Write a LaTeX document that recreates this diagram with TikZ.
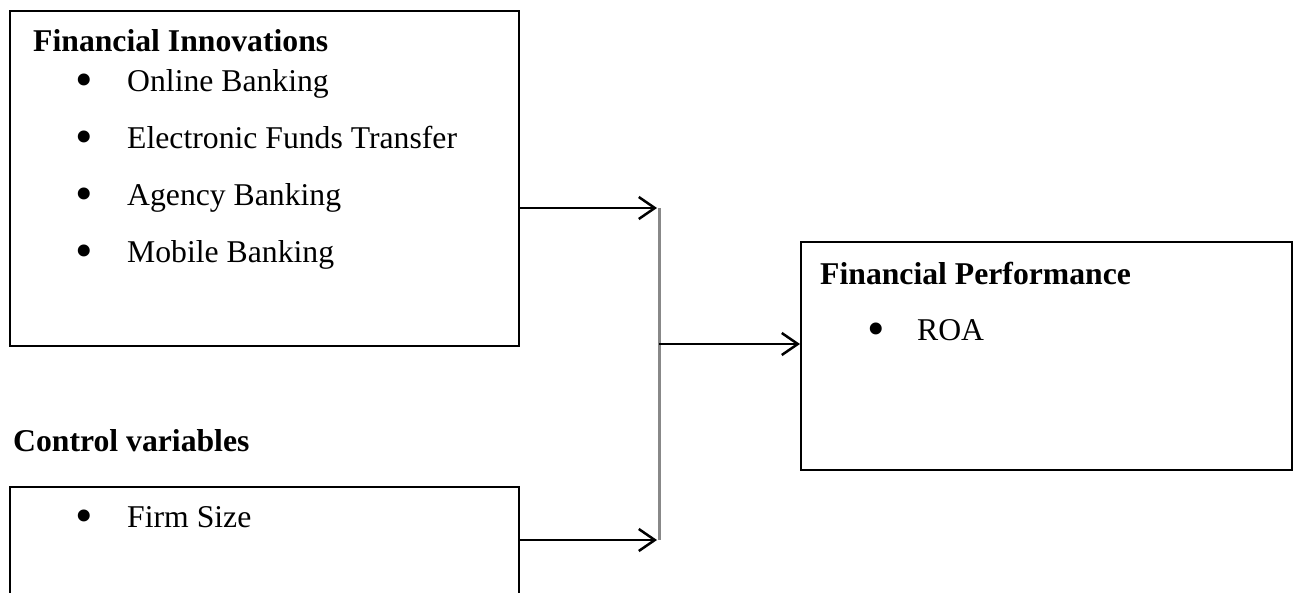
\documentclass[tikz,border=0pt]{standalone}
\usepackage{fontspec}
\setmainfont{Liberation Serif}
\usetikzlibrary{arrows.meta}
\definecolor{bargray}{RGB}{136,136,136}
\begin{document}
\begin{tikzpicture}[x=1pt,y=-1pt,
  box/.style={draw, line width=2pt, inner sep=0pt, anchor=north west},
  txt/.style={anchor=base west, inner sep=0pt, font=\fontsize{31.7}{38}\selectfont},
  ttl/.style={anchor=base west, inner sep=0pt, font=\fontsize{31.7}{38}\selectfont\bfseries},
  bul/.style={anchor=center, inner sep=0pt, font=\fontsize{50}{50}\selectfont},
  arr/.style={line width=2.5pt, -{Straight Barb[length=16pt,width=22pt,line width=2.5pt]}},
  bar/.style={line width=3pt, draw=bargray},
]
\useasboundingbox (0,0) rectangle (1295,592);
\clip (0,0) rectangle (1295,592);

% boxes
\node[box, minimum width=509pt, minimum height=335pt] (fi) at (9,10) {};
\node[box, minimum width=509pt, minimum height=150pt] (cv) at (9,486) {};
\node[box, minimum width=491pt, minimum height=228pt] (fp) at (800,241) {};

% Financial Innovations
\node[ttl] (fit) at (33,51) {Financial Innovations};
\node[bul] (b1) at (84,85) {•};
\node[txt] (t1) at (127,91) {Online Banking};
\node[bul] (b2) at (84,142) {•};
\node[txt] (t2) at (127,148) {Electronic Funds Transfer};
\node[bul] (b3) at (84,199) {•};
\node[txt] (t3) at (127,205) {Agency Banking};
\node[bul] (b4) at (84,256) {•};
\node[txt] (t4) at (127,262) {Mobile Banking};

% Control variables
\node[ttl] (cvt) at (13,451) {Control variables};
\node[bul] (b5) at (84,521) {•};
\node[txt] (t5) at (127,527) {Firm Size};

% Financial Performance
\node[ttl] (fpt) at (820,284) {Financial Performance};
\node[bul] (b6) at (876,334) {•};
\node[txt] (t6) at (917,340) {ROA};

% connectors
\coordinate (bt) at (659,208);
\coordinate (bm) at (659,344);
\coordinate (bb) at (659,540);
\draw[bar] (bt) -- (bb);
\draw[arr] (fi.east |- bt) -- ([xshift=-2pt]bt);
\draw[arr] (cv.east |- bb) -- ([xshift=-2pt]bb);
\draw[arr] (bm) -- (fp.west |- bm);
\end{tikzpicture}
\end{document}
